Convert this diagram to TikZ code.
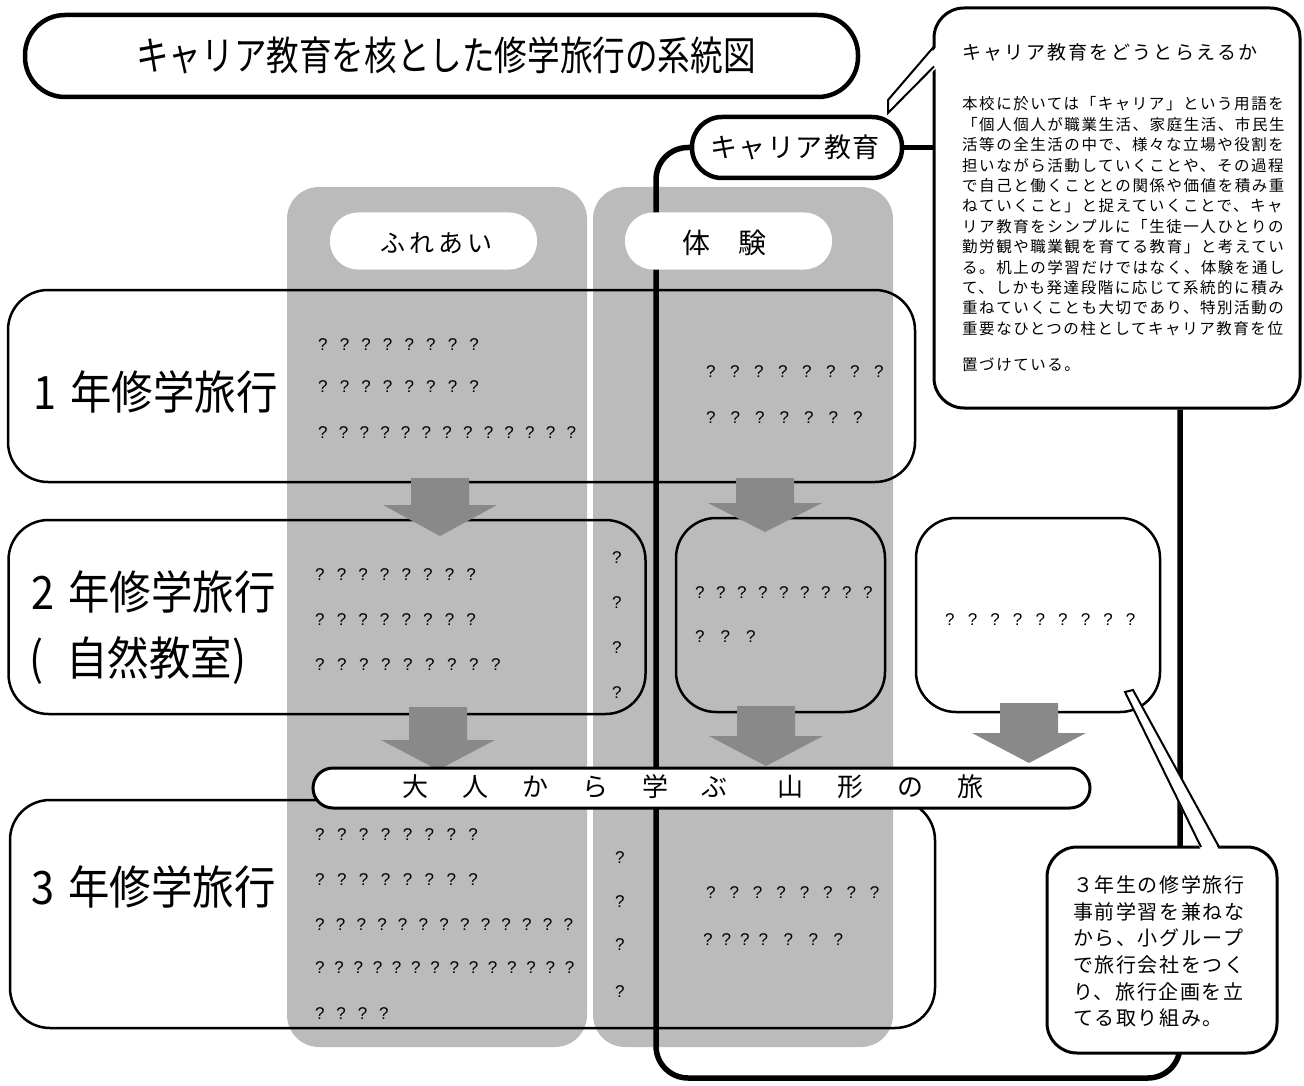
\documentclass[tikz,border=0pt]{standalone}
\usepackage{fontspec}
\usepackage{graphicx}
\newfontfamily\jp{Noto Sans CJK JP}
\newfontfamily\qf{Liberation Sans}
\definecolor{colgrey}{HTML}{BBBBBB}
\definecolor{arrgrey}{HTML}{898989}
\ExplSyntaxOn
\NewDocumentCommand\qline{mm}
 {
  \tl_map_inline:nn {#2}
   {
    \str_if_eq:nnTF {##1} {t}
     { \makebox[18.5pt][l]{?} }
     { \makebox[#1pt][l]{?} }
   }
 }
\ExplSyntaxOff
\newcommand\barrow[4]{%
  \fill[arrgrey] ({#1-29},#2) -- ({#1+29},#2) -- ({#1+29},#3) -- ({#1+57},#3)
     -- (#1,#4) -- ({#1-57},#3) -- ({#1-29},#3) -- cycle;}
\begin{document}
\begin{tikzpicture}[x=1pt,y=-1pt,
  every node/.style={inner sep=0pt},
  colbox/.style={fill=colgrey, rounded corners=32pt},
  rowbox/.style={draw=black, line width=2.5pt, rounded corners=40pt},
  pillw/.style={fill=white, rounded corners=28pt},
  spine/.style={line width=5.5pt},
  qt/.style={anchor=west, font=\qf\fontsize{17}{17}\selectfont},
  lbl/.style={anchor=west, font=\jp\fontsize{46}{50}\selectfont},
  cbody/.style={anchor=west, font={\jp\fontsize{15.5}{16}\selectfont\addfontfeatures{LetterSpace=10}}},
  cbody2/.style={anchor=west, font={\jp\fontsize{20}{20}\selectfont\addfontfeatures{LetterSpace=8}}},
  callout/.style={draw=black, line width=3pt, fill=white, rounded corners=30pt}
]
\useasboundingbox (0,0) rectangle (1304,1086);
\fill[white] (0,0) rectangle (1304,1086);

% title
\node[draw=black, line width=4.5pt, rounded corners=40pt, minimum width=833pt, minimum height=82pt] (titlebox) at (441.5,56) {};
\node[font=\jp\fontsize{40}{44}\selectfont] (title) at (446,55) {\scalebox{0.815}[1]{キャリア教育を核とした修学旅行の系統図}};

% columns
\node[colbox, minimum width=300pt, minimum height=860pt] (col1) at (437,617) {};
\node[colbox, minimum width=300pt, minimum height=860pt] (col2) at (743,617) {};

% rows
\node[rowbox, minimum width=907pt, minimum height=192pt] (row1) at (461.5,386) {};
\node[rowbox, minimum width=637pt, minimum height=194pt] (row2) at (327,617) {};
\node[rowbox, minimum width=209pt, minimum height=194pt] (row2m) at (780.5,615) {};
\node[rowbox, fill=white, minimum width=244pt, minimum height=194pt] (row2r) at (1038,615) {};
\node[rowbox, minimum width=925pt, minimum height=228pt] (row3) at (472.5,914) {};

% career node and callout
\node[draw=black, line width=4.5pt, fill=white, rounded corners=30pt, minimum width=210pt, minimum height=61pt] (career) at (797,147.5) {};
\node[font={\jp\fontsize{27}{28}\selectfont\addfontfeatures{LetterSpace=5}}] (careertxt) at (795,147) {キャリア教育};
\node[callout, minimum width=366pt, minimum height=400pt] (callout1) at (1117,208) {};
\coordinate (spX) at (1180,0);

% spine
\draw[spine, rounded corners=32pt] (career.west) -| (656,1078) -| (callout1.south -| spX);
\draw[spine] (career.east) -- (callout1.west |- career.east);

% column headers
\node[pillw, minimum width=207pt, minimum height=57pt] (fure) at (433.5,241) {};
\node[font={\jp\fontsize{25}{26}\selectfont\addfontfeatures{LetterSpace=16}}] (furetxt) at (436,243) {ふれあい};
\node[pillw, minimum width=207pt, minimum height=57pt] (taiken) at (728.5,241) {};
\node[font=\jp\fontsize{28}{30}\selectfont] (taikentxt) at (724,243) {体　験};

% arrows
\barrow{440}{478}{505}{536}
\barrow{765}{478}{503}{532}
\barrow{438}{707}{740}{770}
\barrow{766}{706}{736}{766}
\barrow{1029}{703}{733}{763}

% banner
\node[draw=black, line width=3pt, fill=white, rounded corners=20pt, minimum width=777pt, minimum height=40pt] (banner) at (701.5,788) {};
\node[font={\jp\fontsize{26}{28}\selectfont\addfontfeatures{LetterSpace=15}}] (bannertxt) at (693,787) {大　人　か　ら　学　ぶ\hspace{20pt}　山　形　の　旅};

% bottom-right callout
\node[callout, minimum width=230pt, minimum height=206pt] (callout2) at (1162,950) {};

% tails
\fill[white] (937.5,46) -- (888,100) -- (888,113) -- (937.5,67) -- cycle;
\draw[line width=2pt, line join=miter] (934,46.5) -- (888,100) -- (888,113) -- (934,66.5);
\fill[white] (1125,692) -- (1133,690) -- (1219,850) -- (1201,850) -- cycle;
\draw[line width=2pt] (1201,847) -- (1125,692) -- (1133,690) -- (1219,847);

% row labels
\node[lbl] (lab1) at (33,392) {\scalebox{0.9}[1]{1\hspace{16pt}年修学旅行}};
\node[lbl] (lab2) at (31,592) {\scalebox{0.9}[1]{2\hspace{16pt}年修学旅行}};
\node[lbl] (lab2b) at (29,660) {\scalebox{0.9}[1]{(\hspace{26pt}自然教室)}};
\node[lbl] (lab3) at (31,887) {\scalebox{0.9}[1]{3\hspace{16pt}年修学旅行}};

% callout 1 text
\node[anchor=west, font={\jp\fontsize{19}{20}\selectfont\addfontfeatures{LetterSpace=12}}] (c1head) at (962,52) {キャリア教育をどうとらえるか};
\foreach \t [count=\i] in {本校に於いては「キャリア」という用語を,「個人個人が職業生活、家庭生活、市民生,活等の全生活の中で、様々な立場や役割を,担いながら活動していくことや、その過程,で自己と働くこととの関係や価値を積み重,ねていくこと」と捉えていくことで、キャ,リア教育をシンプルに「生徒一人ひとりの,勤労観や職業観を育てる教育」と考えてい,る。机上の学習だけではなく、体験を通し,て、しかも発達段階に応じて系統的に積み,重ねていくことも大切であり、特別活動の,重要なひとつの柱としてキャリア教育を位}
  \node[cbody] (cb\i) at (962,{104+(\i-1)*20.4}) {\t};
\node[cbody] (cb13) at (962,365) {置づけている。};

% callout 2 text
\foreach \t [count=\i] in {３年生の修学旅行,事前学習を兼ねな,から、小グループ,で旅行会社をつく,り、旅行企画を立,てる取り組み。}
  \node[cbody2] (cc\i) at (1073,{885+(\i-1)*26.6}) {\t};

% question marks row 1
\node[qt] (q11) at (318,345) {\qline{21.6}{????????}};
\node[qt] (q12) at (318,387) {\qline{21.6}{????????}};
\node[qt] (q13) at (318,433) {\qline{20.7}{?????????????}};
\node[qt] (q14) at (706,372) {\qline{24}{????????}};
\node[qt] (q15) at (706,418) {\qline{24.5}{???????}};
% row 2
\node[qt] (q21) at (315,575) {\qline{21.6}{????????}};
\node[qt] (q22) at (315,620) {\qline{21.6}{????????}};
\node[qt] (q23) at (315,665) {\qline{22}{?????????}};
\node[qt] (q24) at (612,558) {?};
\node[qt] (q25) at (612,603) {?};
\node[qt] (q26) at (612,648) {?};
\node[qt] (q27) at (612,693) {?};
\node[qt] (q28) at (695,593) {\qline{21}{?????????}};
\node[qt] (q29) at (695,637) {\qline{25.5}{???}};
\node[qt] (q2a) at (945,620) {\qline{22.6}{?????????}};
% row 3
\node[qt] (q31) at (315,835) {\qline{21.9}{????????}};
\node[qt] (q32) at (315,880) {\qline{21.9}{????????}};
\node[qt] (q33) at (315,925) {\qline{20.7}{?????????????}};
\node[qt] (q34) at (315,968) {\qline{19.2}{??????????????}};
\node[qt] (q35) at (315,1014) {\qline{21.3}{????}};
\node[qt] (q36) at (615,858) {?};
\node[qt] (q37) at (615,902) {?};
\node[qt] (q38) at (615,945) {?};
\node[qt] (q39) at (615,992) {?};
\node[qt] (q3a) at (706,893) {\qline{23.4}{????????}};
\node[qt] (q3b) at (703,940) {\qline{25}{ttt????}};
\end{tikzpicture}
\end{document}
